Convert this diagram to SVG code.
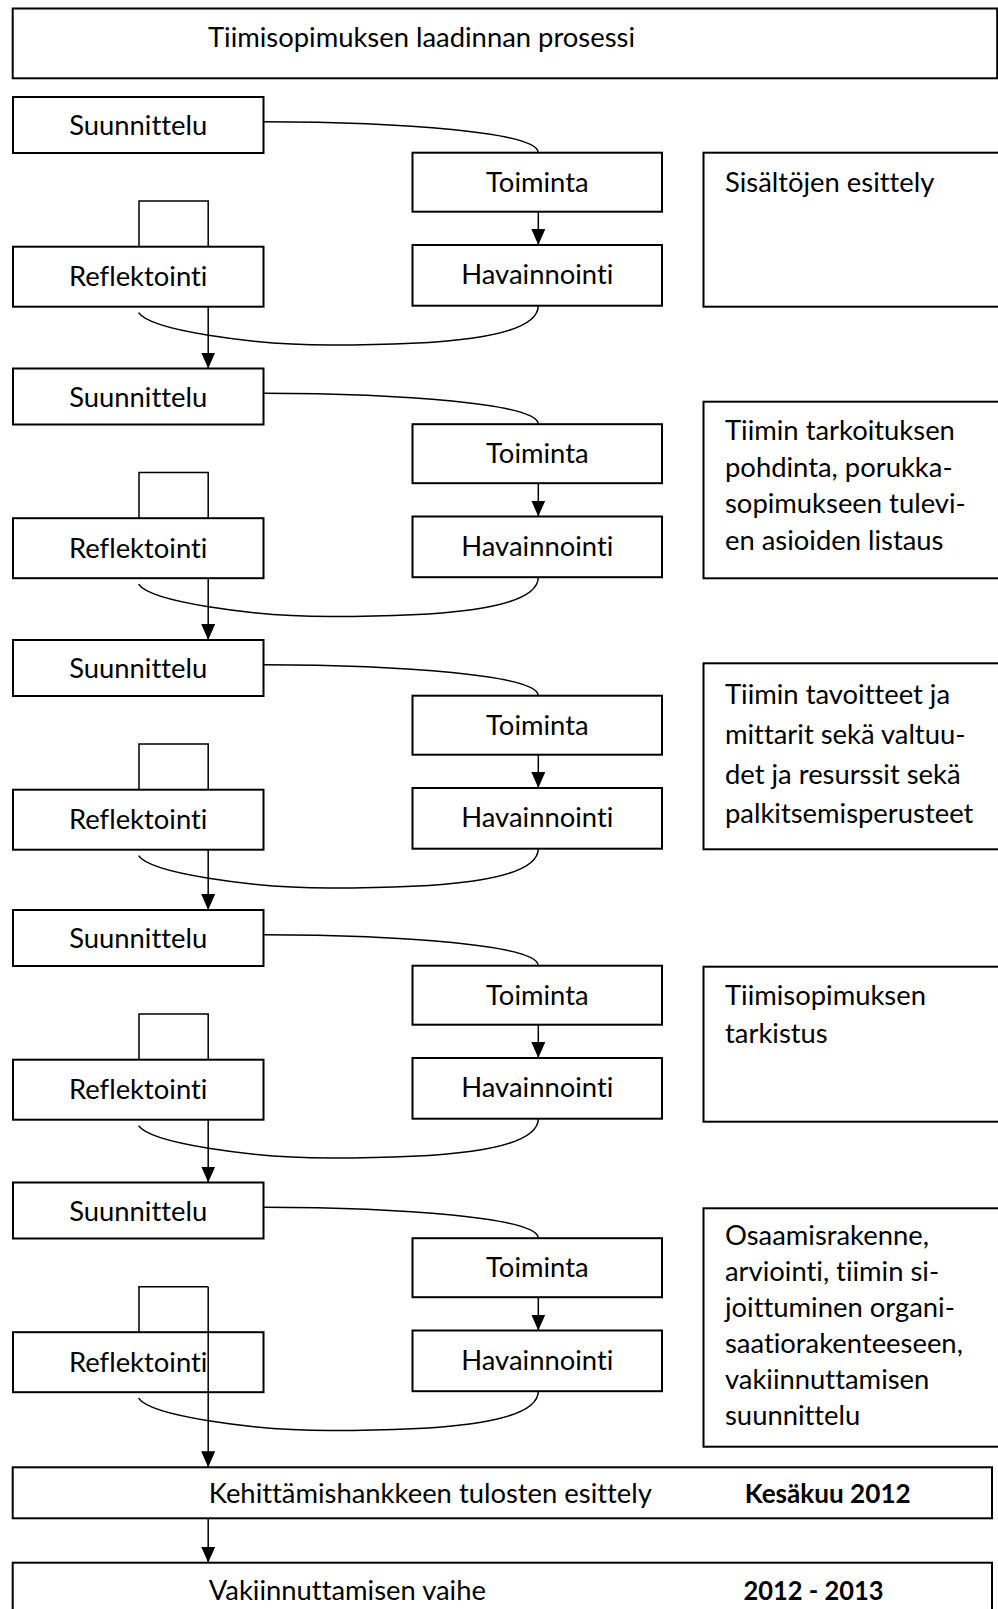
<svg xmlns="http://www.w3.org/2000/svg" width="998" height="1609" viewBox="0 0 998 1609">
<defs>
<style>
.box{fill:#fff;stroke:#000;stroke-width:2}
.t{font-family:Lato,"Liberation Sans",sans-serif;font-size:27.4px;fill:#000;font-variant-ligatures:none;font-feature-settings:"liga" 0}
.c{text-anchor:middle}
.b{font-weight:bold;font-size:26.2px}
.ln{fill:none;stroke:#000;stroke-width:1.5}
</style>
<marker id="ah" markerUnits="userSpaceOnUse" markerWidth="17" markerHeight="15" refX="16" refY="7" orient="auto">
<path d="M0,0 L16,7 L0,14 z" fill="#000"/>
</marker>
</defs>
<rect width="998" height="1609" fill="#fff"/>

<g id="title">
<rect class="box" x="12.7" y="8.5" width="984.5" height="69.8"/>
<text class="t" x="208" y="47">Tiimisopimuksen laadinnan prosessi</text>
</g>

<!-- Block 1 -->
<g id="suunnittelu1"><rect class="box" x="13" y="97" width="250.5" height="56"/><text class="t c" x="138.2" y="135">Suunnittelu</text></g>
<g id="toiminta1"><rect class="box" x="412.5" y="152.7" width="249.5" height="59"/><text class="t c" x="537.3" y="191.7">Toiminta</text></g>
<g id="havainnointi1"><rect class="box" x="412.5" y="245" width="249.5" height="60.7"/><text class="t c" x="537.3" y="284">Havainnointi</text></g>
<g id="reflektointi1"><rect class="box" x="13" y="246.7" width="250.5" height="60"/><text class="t c" x="138.2" y="286">Reflektointi</text></g>

<!-- Block 2 -->
<g id="suunnittelu2"><rect class="box" x="13" y="368.5" width="250.5" height="56"/><text class="t c" x="138.2" y="406.5">Suunnittelu</text></g>
<g id="toiminta2"><rect class="box" x="412.5" y="424.2" width="249.5" height="59"/><text class="t c" x="537.3" y="463.2">Toiminta</text></g>
<g id="havainnointi2"><rect class="box" x="412.5" y="516.5" width="249.5" height="60.7"/><text class="t c" x="537.3" y="555.5">Havainnointi</text></g>
<g id="reflektointi2"><rect class="box" x="13" y="518.2" width="250.5" height="60"/><text class="t c" x="138.2" y="557.5">Reflektointi</text></g>

<!-- Block 3 -->
<g id="suunnittelu3"><rect class="box" x="13" y="640" width="250.5" height="56"/><text class="t c" x="138.2" y="678">Suunnittelu</text></g>
<g id="toiminta3"><rect class="box" x="412.5" y="695.7" width="249.5" height="59"/><text class="t c" x="537.3" y="734.7">Toiminta</text></g>
<g id="havainnointi3"><rect class="box" x="412.5" y="788" width="249.5" height="60.7"/><text class="t c" x="537.3" y="827">Havainnointi</text></g>
<g id="reflektointi3"><rect class="box" x="13" y="789.7" width="250.5" height="60"/><text class="t c" x="138.2" y="829">Reflektointi</text></g>

<!-- Block 4 -->
<g id="suunnittelu4"><rect class="box" x="13" y="910" width="250.5" height="56"/><text class="t c" x="138.2" y="948">Suunnittelu</text></g>
<g id="toiminta4"><rect class="box" x="412.5" y="965.7" width="249.5" height="59"/><text class="t c" x="537.3" y="1004.7">Toiminta</text></g>
<g id="havainnointi4"><rect class="box" x="412.5" y="1058" width="249.5" height="60.7"/><text class="t c" x="537.3" y="1097">Havainnointi</text></g>
<g id="reflektointi4"><rect class="box" x="13" y="1059.7" width="250.5" height="60"/><text class="t c" x="138.2" y="1099">Reflektointi</text></g>

<!-- Block 5 -->
<g id="suunnittelu5"><rect class="box" x="13" y="1182.5" width="250.5" height="56"/><text class="t c" x="138.2" y="1220.5">Suunnittelu</text></g>
<g id="toiminta5"><rect class="box" x="412.5" y="1238.2" width="249.5" height="59"/><text class="t c" x="537.3" y="1277.2">Toiminta</text></g>
<g id="havainnointi5"><rect class="box" x="412.5" y="1330.5" width="249.5" height="60.7"/><text class="t c" x="537.3" y="1369.5">Havainnointi</text></g>
<g id="reflektointi5"><rect class="box" x="13" y="1332.2" width="250.5" height="60"/><text class="t c" x="138.2" y="1371.5">Reflektointi</text></g>

<!-- Right side boxes -->
<g id="sisalto1"><rect class="box" x="703.5" y="152.7" width="310" height="154"/>
<text class="t" x="725" y="191.5">Sisältöjen esittely</text></g>
<g id="sisalto2"><rect class="box" x="703.5" y="401.7" width="310" height="176.6"/>
<text class="t" x="725" y="440">Tiimin tarkoituksen</text>
<text class="t" x="725" y="476.5">pohdinta, porukka-</text>
<text class="t" x="725" y="513">sopimukseen tulevi-</text>
<text class="t" x="725" y="549.5">en asioiden listaus</text></g>
<g id="sisalto3"><rect class="box" x="703.5" y="663.3" width="310" height="186"/>
<text class="t" x="725" y="703.5">Tiimin tavoitteet ja</text>
<text class="t" x="725" y="743.5">mittarit sekä valtuu-</text>
<text class="t" x="725" y="783.5">det ja resurssit sekä</text>
<text class="t" x="725" y="823">palkitsemisperusteet</text></g>
<g id="sisalto4"><rect class="box" x="703.5" y="966.7" width="310" height="155"/>
<text class="t" x="725" y="1005">Tiimisopimuksen</text>
<text class="t" x="725" y="1042.5">tarkistus</text></g>
<g id="sisalto5"><rect class="box" x="703.5" y="1208.3" width="310" height="238.4"/>
<text class="t" x="725" y="1245">Osaamisrakenne,</text>
<text class="t" x="725" y="1281">arviointi, tiimin si-</text>
<text class="t" x="725" y="1317">joittuminen organi-</text>
<text class="t" x="725" y="1353">saatiorakenteeseen,</text>
<text class="t" x="725" y="1389">vakiinnuttamisen</text>
<text class="t" x="725" y="1425">suunnittelu</text></g>

<g id="kehittamishanke"><rect class="box" x="12.7" y="1467.3" width="979.3" height="51"/>
<text class="t" x="208.8" y="1503">Kehittämishankkeen tulosten esittely</text>
<text class="t b" x="744.7" y="1503" textLength="166" lengthAdjust="spacingAndGlyphs">Kesäkuu 2012</text></g>
<g id="vakiinnuttaminen"><rect class="box" x="12.7" y="1562.7" width="979.3" height="60"/>
<text class="t" x="208.8" y="1600">Vakiinnuttamisen vaihe</text>
<text class="t b" x="743.5" y="1600" textLength="140" lengthAdjust="spacingAndGlyphs">2012 - 2013</text></g>

<g id="connectors">
<!-- Block 1 -->
<path class="ln" d="M263.5,121.7 C400,122 538,132 538.3,152.7"/>
<path class="ln" d="M538.3,211.7 L538.3,245" marker-end="url(#ah)"/>
<path class="ln" d="M538.3,305.7 C538,340 430,345 330,345 C250,345 150,330 138.6,312.7"/>
<path class="ln" d="M139,246.7 V201 H208.2 V246.7"/>
<path class="ln" d="M208.2,306.7 V368.5" marker-end="url(#ah)"/>
<!-- Block 2 -->
<path class="ln" d="M263.5,393.2 C400,393.5 538,403.5 538.3,424.2"/>
<path class="ln" d="M538.3,483.2 L538.3,516.5" marker-end="url(#ah)"/>
<path class="ln" d="M538.3,577.2 C538,611.5 430,616.5 330,616.5 C250,616.5 150,601.5 138.6,584.2"/>
<path class="ln" d="M139,518.2 V472.5 H208.2 V518.2"/>
<path class="ln" d="M208.2,578.2 V640" marker-end="url(#ah)"/>
<!-- Block 3 -->
<path class="ln" d="M263.5,664.7 C400,665 538,675 538.3,695.7"/>
<path class="ln" d="M538.3,754.7 L538.3,788" marker-end="url(#ah)"/>
<path class="ln" d="M538.3,848.7 C538,883 430,888 330,888 C250,888 150,873 138.6,855.7"/>
<path class="ln" d="M139,789.7 V744 H208.2 V789.7"/>
<path class="ln" d="M208.2,849.7 V910" marker-end="url(#ah)"/>
<!-- Block 4 -->
<path class="ln" d="M263.5,934.7 C400,935 538,945 538.3,965.7"/>
<path class="ln" d="M538.3,1024.7 L538.3,1058" marker-end="url(#ah)"/>
<path class="ln" d="M538.3,1118.7 C538,1153 430,1158 330,1158 C250,1158 150,1143 138.6,1125.7"/>
<path class="ln" d="M139,1059.7 V1014 H208.2 V1059.7"/>
<path class="ln" d="M208.2,1119.7 V1182.5" marker-end="url(#ah)"/>
<!-- Block 5 -->
<path class="ln" d="M263.5,1207.2 C400,1207.5 538,1217.5 538.3,1238.2"/>
<path class="ln" d="M538.3,1297.2 L538.3,1330.5" marker-end="url(#ah)"/>
<path class="ln" d="M538.3,1391.2 C538,1425.5 430,1430.5 330,1430.5 C250,1430.5 150,1415.5 138.6,1398.2"/>
<path class="ln" d="M139,1332.2 V1286.7 H208.2"/>
<path class="ln" d="M208.2,1286.7 V1467.3" marker-end="url(#ah)"/>
<!-- Bottom -->
<path class="ln" d="M208.2,1518.3 V1562.7" marker-end="url(#ah)"/>
</g>
</svg>
